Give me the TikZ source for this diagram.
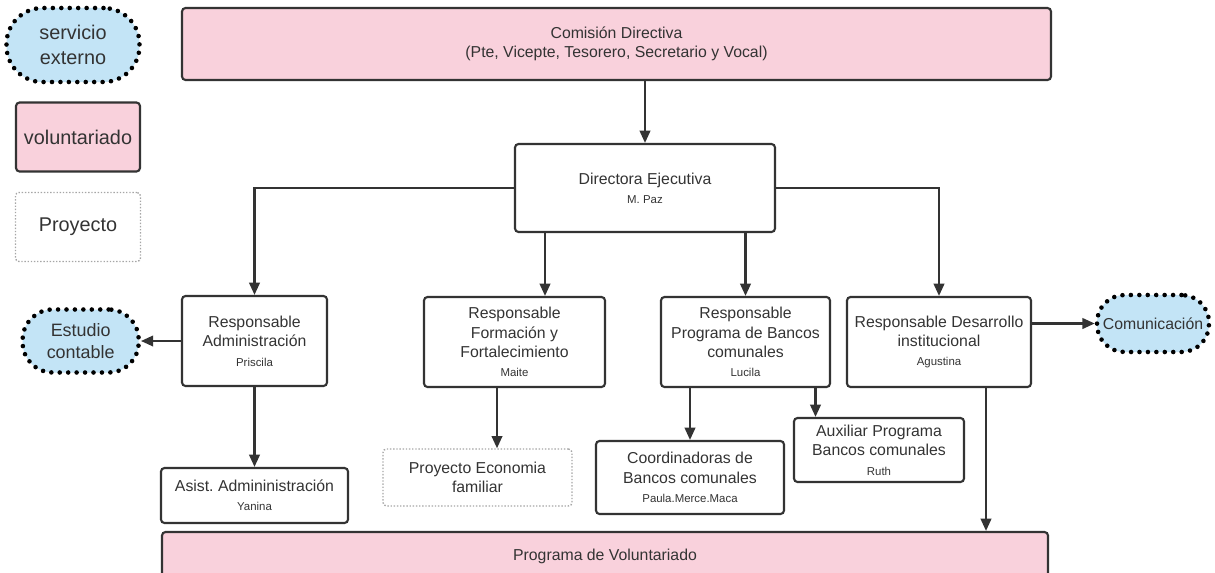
\documentclass[tikz,border=0pt]{standalone}
\usepackage{fontspec}
\setmainfont{Liberation Sans}
\usetikzlibrary{positioning, arrows.meta}
\definecolor{volpink}{HTML}{F9D1DC}
\definecolor{extblue}{HTML}{C3E4F6}
\definecolor{linegray}{HTML}{333333}
\tikzset{
    rolebox/.style={draw=linegray, line width=1.2pt, rounded corners=2pt, align=center, inner sep=2pt, text=linegray, font=\fontsize{9}{11}\selectfont},
    volbox/.style={rolebox, fill=volpink},
    projbox/.style={rolebox, draw=gray!70, line width=0.8pt, densely dotted},
    extbox/.style={draw=black, fill=extblue, line width=2.6pt, dash pattern=on 0pt off 4.8pt, line cap=round, rounded corners=0.6cm, align=center, text=linegray},
    conn/.style={->, draw=linegray, line width=1.3pt},
}
\newcommand{\who}[1]{\\{\fontsize{6.5}{8}\selectfont #1}}

\begin{document}
\begin{tikzpicture}[>={Triangle[length=7pt,width=6pt]}]
    \useasboundingbox (0,0) rectangle (24.3,-11.46);

    % Legend
    \node[extbox, minimum width=2.66cm, minimum height=1.48cm, rounded corners=0.72cm, font=\fontsize{11.3}{14}\selectfont] (legext) at (1.46,-0.9) {servicio\\externo};
    \node[volbox, minimum width=2.48cm, minimum height=1.38cm, font=\fontsize{11.3}{14}\selectfont] (legvol) at (1.56,-2.74) {voluntariado};
    \node[projbox, minimum width=2.5cm, minimum height=1.38cm, font=\fontsize{11.3}{14}\selectfont] (legproy) at (1.56,-4.54) {Proyecto};

    % Top levels
    \node[volbox, minimum width=17.38cm, minimum height=1.44cm] (comision) at (12.33,-0.88) {Comisión Directiva\\(Pte, Vicepte, Tesorero, Secretario y Vocal)};
    \node[rolebox, minimum width=5.2cm, minimum height=1.76cm] (directora) at (12.9,-3.76) {Directora Ejecutiva\who{M. Paz}};

    % Responsables
    \node[rolebox, minimum width=2.9cm, minimum height=1.8cm] (admin) at (5.09,-6.82) {Responsable\\Administración\who{Priscila}};
    \node[rolebox, minimum width=3.62cm, minimum height=1.8cm] (formacion) at (10.29,-6.84) {Responsable\\Formación y\\Fortalecimiento\who{Maite}};
    \node[rolebox, minimum width=3.38cm, minimum height=1.8cm] (bancos) at (14.91,-6.84) {Responsable\\Programa de Bancos\\comunales\who{Lucila}};
    \node[rolebox, minimum width=3.68cm, minimum height=1.8cm] (desarrollo) at (18.78,-6.84) {Responsable Desarrollo\\institucional\who{Agustina}};

    % External services
    \node[extbox, minimum width=2.32cm, minimum height=1.26cm, font=\fontsize{10.2}{12.5}\selectfont, left=0.8cm of admin] (estudio) {Estudio\\contable};
    \node[extbox, minimum width=2.24cm, minimum height=1.14cm, rounded corners=0.55cm, font=\fontsize{9}{11}\selectfont] (comunicacion) at (23.06,-6.47) {Comunicación};

    % Lower level
    \node[rolebox, minimum width=3.74cm, minimum height=1.1cm] (asist) at (5.09,-9.91) {Asist.\ Admininistración\who{Yanina}};
    \node[projbox, minimum width=3.78cm, minimum height=1.14cm] (proyecto) at (9.55,-9.55) {Proyecto Economia\\familiar};
    \node[rolebox, minimum width=3.76cm, minimum height=1.46cm] (coord) at (13.8,-9.55) {Coordinadoras de\\Bancos comunales\who{Paula.Merce.Maca}};
    \node[rolebox, minimum width=3.4cm, minimum height=1.28cm] (auxiliar) at (17.58,-9.0) {Auxiliar Programa\\Bancos comunales\who{Ruth}};
    \node[volbox, minimum width=17.72cm, minimum height=0.96cm] (programa) at (12.1,-11.12) {Programa de Voluntariado};

    % Connections
    \draw[conn] (comision.south -| directora.north) -- (directora.north);
    \draw[conn] (directora.west) -| (admin.north);
    \draw[conn] (directora.east) -| (desarrollo.north);
    \coordinate (fortop) at ([xshift=-2cm]directora.south);
    \draw[conn] (fortop) -- (fortop |- formacion.north);
    \draw[conn] (directora.south -| bancos.north) -- (bancos.north);

    \draw[conn] (admin.west) -- (estudio.east);
    \draw[conn] (admin.south) -- (asist.north);
    \coordinate (proytop) at ([xshift=-0.35cm]formacion.south);
    \draw[conn] (proytop) -- (proytop |- proyecto.north);
    \draw[conn] (bancos.south -| coord.north) -- (coord.north);
    \coordinate (auxtop) at ([xshift=1.4cm]bancos.south);
    \draw[conn] (auxtop) -- (auxtop |- auxiliar.north);
    \draw[conn] (desarrollo.east |- comunicacion.west) -- (comunicacion.west);
    \coordinate (voltop) at ([xshift=0.94cm]desarrollo.south);
    \draw[conn] (voltop) -- (voltop |- programa.north);

\end{tikzpicture}
\end{document}
